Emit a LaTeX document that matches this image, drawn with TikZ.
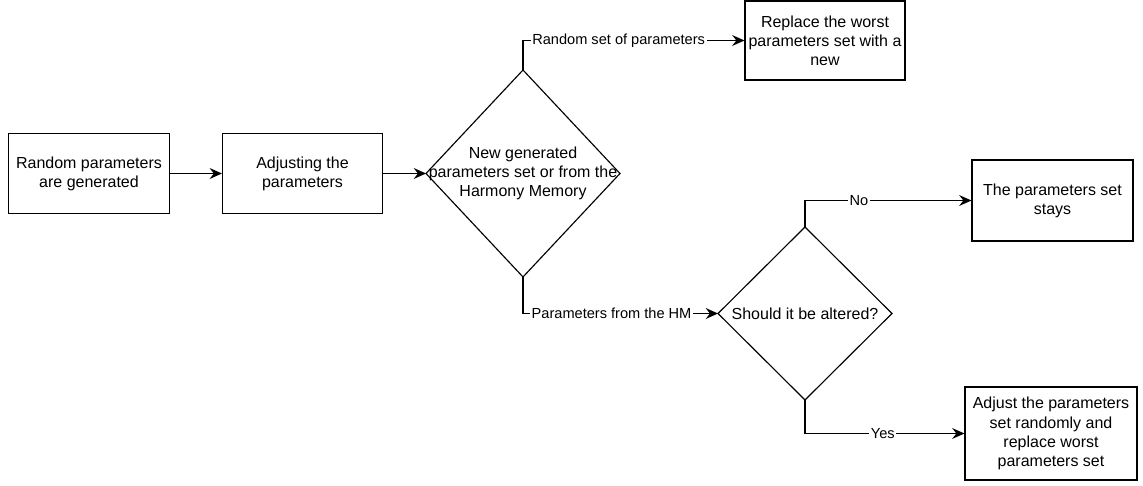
\documentclass[tikz,border=0pt]{standalone}
\usepackage{fontspec}
\setmainfont{Liberation Sans}
\usetikzlibrary{shapes.geometric,arrows.meta}

\begin{document}
\begin{tikzpicture}[x=0.02cm,y=-0.02cm,
        procbox/.style={draw,line width=0.65pt,align=center,inner sep=2pt,font=\fontsize{9.1}{10.9}\selectfont},
        decision/.style={draw,diamond,line width=0.65pt,inner sep=0pt,outer sep=0pt},
        dtext/.style={align=center,inner sep=0pt,font=\fontsize{9.1}{10.9}\selectfont},
        flow/.style={line width=0.65pt,-{Stealth[length=7pt,width=6.2pt,inset=2.4pt]}},
        edgelabel/.style={fill=white,inner sep=1pt,font=\fontsize{8.3}{10}\selectfont}]
        \useasboundingbox (0,0) rectangle (1143,486);

        \node[procbox,minimum width=3.22cm,minimum height=1.6cm] (rand) at (89,173.5) {Random parameters\\are generated};
        \node[procbox,minimum width=3.2cm,minimum height=1.6cm] (adjust) at (302.5,173.5) {Adjusting the\\parameters};
        \node[decision,minimum width=3.88cm,minimum height=4.14cm] (choice) at (523,173.5) {};
        \node[dtext] (choicetext) at (choice) {New generated\\parameters set or from the\\Harmony Memory};
        \node[procbox,minimum width=3.2cm,minimum height=1.58cm] (replace) at (825,40.5) {Replace the worst\\parameters set with a\\new};
        \node[decision,minimum width=3.48cm,minimum height=3.46cm] (alter) at (805,313.5) {};
        \node[dtext] (altertext) at (alter) {Should it be altered?};
        \node[procbox,minimum width=3.22cm,minimum height=1.62cm] (stays) at (1052.5,200.5) {The parameters set\\stays};
        \node[procbox,minimum width=3.44cm,minimum height=1.86cm] (newset) at (1051,433.5) {Adjust the parameters\\set randomly and\\replace worst\\parameters set};

        \draw[flow] (rand) -- (adjust);
        \draw[flow] (adjust) -- (choice);
        \draw[flow] (choice.north) |- node[edgelabel,pos=0.716] (lrandom) {Random set of parameters} (replace.west);
        \draw[flow] (choice.south) |- node[edgelabel,pos=0.727] (lhm) {Parameters from the HM} (alter.west);
        \draw[flow] (alter.north) |- node[edgelabel,pos=0.662] (lno) {No} (stays.west);
        \draw[flow] (alter.south) |- node[edgelabel,pos=0.744] (lyes) {Yes} (newset.west);
\end{tikzpicture}
\end{document}
